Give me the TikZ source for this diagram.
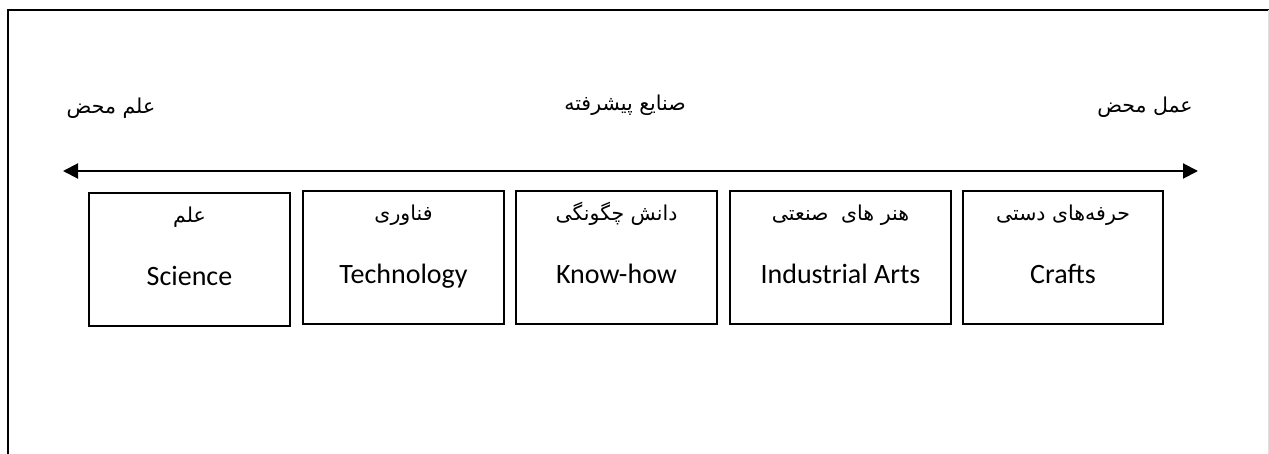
\documentclass[tikz,border=0pt]{standalone}
\usepackage{fontspec}
\setmainfont{Carlito}
\newfontfamily\arabicfont[Script=Arabic]{DejaVu Sans}
\TeXXeTstate=1
\usetikzlibrary{arrows.meta}
\tikzset{
  stagebox/.style={draw=black, line width=1.5pt, minimum width=201pt, minimum height=133pt, inner sep=0pt},
  fatxt/.style={font=\arabicfont\fontsize{20.5}{24}\selectfont, anchor=base, inner sep=0pt},
  entxt/.style={font=\fontsize{28}{32}\selectfont, anchor=base, inner sep=0pt},
  axis/.style={line width=2pt, {Triangle[length=15pt,width=15pt]}-{Triangle[length=15pt,width=15pt]}}
}
\begin{document}
\begin{tikzpicture}[x=1pt,y=-1pt]
\useasboundingbox (0,0) rectangle (1269,454);
% outer frame (open at bottom)
\draw[line width=2pt] (8,454) -- (8,10) -- (1269,10);
\draw[line width=0.8pt, black!12] (1268,10) -- (1268,454);
% top labels
\node[fatxt] (pure sci) at (111,114) {\beginR علم محض\endR};
\node[fatxt] (adv) at (625,111) {\beginR صنایع پیشرفته\endR};
\node[fatxt] (pure work) at (1145,113) {\beginR عمل محض\endR};
% axis
\coordinate (lt) at (63,171);
\coordinate (rt) at (1198,171);
\draw[axis] (lt) -- (rt);
% boxes
\node[stagebox] (b1) at (189.5,259.5) {};
\node[stagebox] (b2) at (403.5,257.5) {};
\node[stagebox] (b3) at (616.5,257.5) {};
\node[stagebox, minimum width=221pt] (b4) at (840.5,257.5) {};
\node[stagebox, minimum width=200pt] (b5) at (1063,257.5) {};
% box texts
\node[fatxt] (f1) at (189.5,223) {\beginR علم\endR};
\node[entxt] (e1) at (189.5,286) {Science};
\node[fatxt] (f2) at (403.5,221) {\beginR فناوری\endR};
\node[entxt] (e2) at (403.5,284) {Technology};
\node[fatxt] (f3) at (616.5,221) {\beginR دانش چگونگی\endR};
\node[entxt] (e3) at (616.5,284) {Know-how};
\node[fatxt] (f4) at (840.5,221) {\beginR هنر های\hspace{6pt} صنعتی\endR};
\node[entxt] (e4) at (840.5,284) {Industrial Arts};
\node[fatxt] (f5) at (1063,221) {\beginR حرفه‌های دستی\endR};
\node[entxt] (e5) at (1063,284) {Crafts};
\end{tikzpicture}
\end{document}
